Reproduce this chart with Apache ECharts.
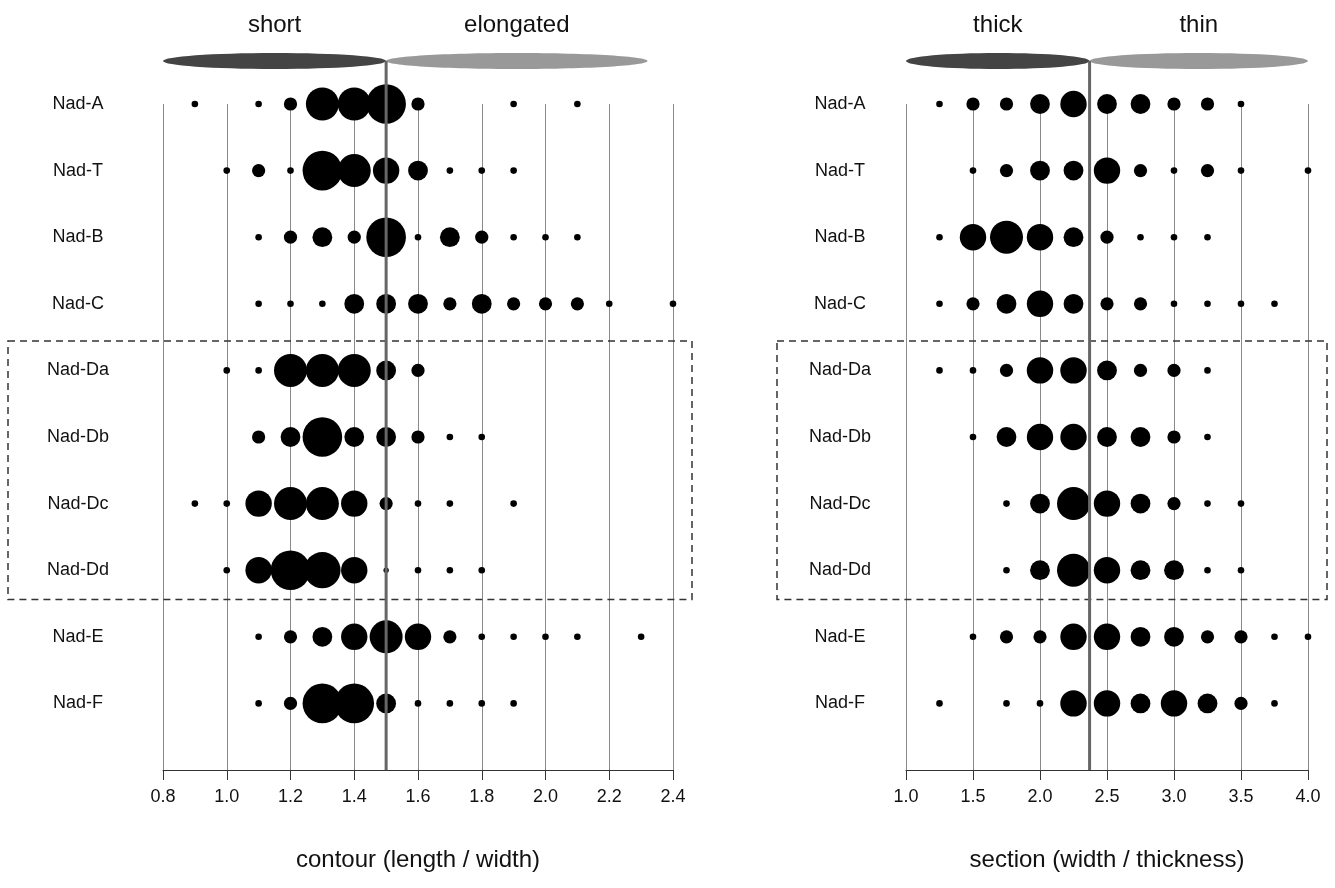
<!DOCTYPE html>
<html>
<head>
<meta charset="utf-8">
<script src="https://cdn.jsdelivr.net/npm/echarts@6/dist/echarts.min.js"></script>
<style>
html,body{margin:0;padding:0;background:#fff;}
#chart{width:1335px;height:888px;}
</style>
</head>
<body>
<div id="chart"></div>
<script>
// ---- DATA ----
const rowNames = ['Nad-A','Nad-T','Nad-B','Nad-C','Nad-Da','Nad-Db','Nad-Dc','Nad-Dd','Nad-E','Nad-F'];
const boxedRows = ['Nad-Da','Nad-Dd'];

const contourTicks = [0.8, 2.4, 0.2];
const sectionTicks = [1.0, 4.0, 0.5];
const contourSplit = 1.5;
const sectionSplit = 2.37;
const contourBands = [0.8, 1.5, 2.32];
const sectionBands = [1.0, 2.37, 4.0];
const contourLabels = ['short', 'elongated'];
const sectionLabels = ['thick', 'thin'];
const contourTitle = 'contour (length / width)';
const sectionTitle = 'section (width / thickness)';

// contour: [ratio, frequency class]
const cA  = [[0.9,1],[1.1,1],[1.2,2],[1.3,5],[1.4,5],[1.5,6],[1.6,2],[1.9,1],[2.1,1]];
const cT  = [[1.0,1],[1.1,2],[1.2,1],[1.3,6],[1.4,5],[1.5,4],[1.6,3],[1.7,1],[1.8,1],[1.9,1]];
const cB  = [[1.1,1],[1.2,2],[1.3,3],[1.4,2],[1.5,6],[1.6,1],[1.7,3],[1.8,2],[1.9,1],[2.0,1],[2.1,1]];
const cC  = [[1.1,1],[1.2,1],[1.3,1],[1.4,3],[1.5,3],[1.6,3],[1.7,2],[1.8,3],[1.9,2],[2.0,2],[2.1,2],[2.2,1],[2.4,1]];
const cDa = [[1.0,1],[1.1,1],[1.2,5],[1.3,5],[1.4,5],[1.5,3],[1.6,2]];
const cDb = [[1.1,2],[1.2,3],[1.3,6],[1.4,3],[1.5,3],[1.6,2],[1.7,1],[1.8,1]];
const cDc = [[0.9,1],[1.0,1],[1.1,4],[1.2,5],[1.3,5],[1.4,4],[1.5,2],[1.6,1],[1.7,1],[1.9,1]];
const cDd = [[1.0,1],[1.1,4],[1.2,6],[1.3,5.5],[1.4,4],[1.5,0.8],[1.6,1],[1.7,1],[1.8,1]];
const cE  = [[1.1,1],[1.2,2],[1.3,3],[1.4,4],[1.5,5],[1.6,4],[1.7,2],[1.8,1],[1.9,1],[2.0,1],[2.1,1],[2.3,1]];
const cF  = [[1.1,1],[1.2,2],[1.3,6],[1.4,6],[1.5,3],[1.6,1],[1.7,1],[1.8,1],[1.9,1]];

// section: [ratio, frequency class]
const sA  = [[1.25,1],[1.5,2],[1.75,2],[2.0,3],[2.25,4],[2.5,3],[2.75,3],[3.0,2],[3.25,2],[3.5,1]];
const sT  = [[1.5,1],[1.75,2],[2.0,3],[2.25,3],[2.5,4],[2.75,2],[3.0,1],[3.25,2],[3.5,1],[4.0,1]];
const sB  = [[1.25,1],[1.5,4],[1.75,5],[2.0,4],[2.25,3],[2.5,2],[2.75,1],[3.0,1],[3.25,1]];
const sC  = [[1.25,1],[1.5,2],[1.75,3],[2.0,4],[2.25,3],[2.5,2],[2.75,2],[3.0,1],[3.25,1],[3.5,1],[3.75,1]];
const sDa = [[1.25,1],[1.5,1],[1.75,2],[2.0,4],[2.25,4],[2.5,3],[2.75,2],[3.0,2],[3.25,1]];
const sDb = [[1.5,1],[1.75,3],[2.0,4],[2.25,4],[2.5,3],[2.75,3],[3.0,2],[3.25,1]];
const sDc = [[1.75,1],[2.0,3],[2.25,5],[2.5,4],[2.75,3],[3.0,2],[3.25,1],[3.5,1]];
const sDd = [[1.75,1],[2.0,3],[2.25,5],[2.5,4],[2.75,3],[3.0,3],[3.25,1],[3.5,1]];
const sE  = [[1.5,1],[1.75,2],[2.0,2],[2.25,4],[2.5,4],[2.75,3],[3.0,3],[3.25,2],[3.5,2],[3.75,1],[4.0,1]];
const sF  = [[1.25,1],[1.75,1],[2.0,1],[2.25,4],[2.5,4],[2.75,3],[3.0,4],[3.25,3],[3.5,2],[3.75,1]];

const contourRows = [cA,cT,cB,cC,cDa,cDb,cDc,cDd,cE,cF];
const sectionRows = [sA,sT,sB,sC,sDa,sDb,sDc,sDd,sE,sF];

// ---- BUILD ----
const yCats = [''].concat(rowNames.slice().reverse());
function flatten(rows){
  const out = [];
  rows.forEach((r, i) => r.forEach(p => out.push([p[0], rowNames[i], p[1]])));
  return out;
}
const FONT = 'Liberation Sans, Arial, sans-serif';
const chart = echarts.init(document.getElementById('chart'), null, {renderer:'canvas'});

function xAxisDef(gi, ticks, title){
  return {
    type:'value', gridIndex:gi, min:ticks[0], max:ticks[1], interval:ticks[2],
    axisLine:{show:true, lineStyle:{color:'#333', width:1}},
    axisTick:{show:true, length:10, lineStyle:{color:'#333'}},
    axisLabel:{color:'#111', fontSize:18, fontFamily:FONT, margin:18, formatter:v=>v.toFixed(1)},
    splitLine:{show:true, lineStyle:{color:'#8a8a8a', width:1}},
    name:title, nameLocation:'middle', nameGap:78,
    nameTextStyle:{color:'#111', fontSize:24, fontFamily:FONT}
  };
}
function yAxisDef(gi, margin){
  return {
    type:'category', gridIndex:gi, data:yCats, boundaryGap:false,
    axisLine:{show:false}, axisTick:{show:false}, splitLine:{show:false},
    axisLabel:{show:true, interval:0, color:'#111', fontSize:18, fontFamily:FONT, align:'center', margin:margin}
  };
}
const sizeFn = v => v[2]*6.6;

chart.setOption({
  animation:false,
  backgroundColor:'#fff',
  grid:[
    {left:163, top:104, width:510, height:666},
    {left:906, top:104, width:402, height:666}
  ],
  xAxis:[xAxisDef(0, contourTicks, contourTitle), xAxisDef(1, sectionTicks, sectionTitle)],
  yAxis:[yAxisDef(0, 85), yAxisDef(1, 66)],
  series:[
    {type:'scatter', xAxisIndex:0, yAxisIndex:0, data:flatten(contourRows), symbolSize:sizeFn,
     itemStyle:{color:'#000', opacity:1}, z:3},
    {type:'scatter', xAxisIndex:1, yAxisIndex:1, data:flatten(sectionRows), symbolSize:sizeFn,
     itemStyle:{color:'#000', opacity:1}, z:3}
  ]
});

function px(gi, x, cat){ return chart.convertToPixel({gridIndex:gi}, [x, cat]); }

function panelGraphics(gi, bands, split, labels, boxX){
  const g = [];
  const yAxisBase = px(gi, bands[0], '')[1];
  const yTop = px(gi, bands[0], rowNames[0])[1];
  const cy = yTop - 43;
  const xb0 = px(gi, bands[0], '')[0], xb1 = px(gi, bands[1], '')[0], xb2 = px(gi, bands[2], '')[0];
  g.push({type:'ellipse', z:50, shape:{cx:(xb0+xb1)/2, cy:cy, rx:(xb1-xb0)/2, ry:8}, style:{fill:'#444'}});
  g.push({type:'ellipse', z:50, shape:{cx:(xb1+xb2)/2, cy:cy, rx:(xb2-xb1)/2, ry:8}, style:{fill:'#999'}});
  g.push({type:'text', z:50, style:{text:labels[0], x:(xb0+xb1)/2, y:cy-36, fill:'#111', font:'24px '+FONT, align:'center', verticalAlign:'middle'}});
  g.push({type:'text', z:50, style:{text:labels[1], x:(xb1+xb2)/2, y:cy-36, fill:'#111', font:'24px '+FONT, align:'center', verticalAlign:'middle'}});
  const xs = px(gi, split, '')[0];
  g.push({type:'line', z:100, shape:{x1:xs, y1:cy, x2:xs, y2:yAxisBase}, style:{stroke:'#666', lineWidth:3}});
  // dashed box around the D group
  const yC = px(gi, bands[0], 'Nad-C')[1], yDa = px(gi, bands[0], boxedRows[0])[1];
  const yDd = px(gi, bands[0], boxedRows[1])[1], yE = px(gi, bands[0], 'Nad-E')[1];
  const top = (yC + yDa)/2 + 4, bot = (yDd + yE)/2 - 4;
  g.push({type:'rect', z:90, shape:{x:boxX[0], y:top, width:boxX[1]-boxX[0], height:bot-top},
          style:{fill:null, stroke:'#333', lineWidth:1.5, lineDash:[7,5]}});
  return g;
}

chart.setOption({
  graphic:{elements: panelGraphics(0, contourBands, contourSplit, contourLabels, [8, 692])
    .concat(panelGraphics(1, sectionBands, sectionSplit, sectionLabels, [777, 1327]))}
});
</script>
</body>
</html>
